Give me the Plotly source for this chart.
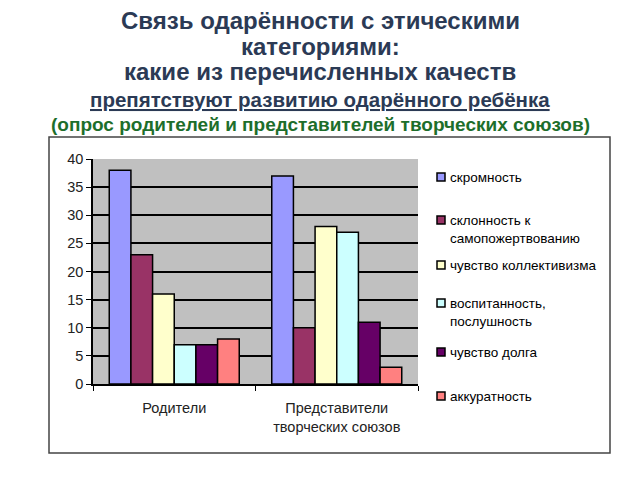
import plotly.graph_objects as go

categories = ["Родители", "Представители<br>творческих союзов"]
series_names = ["скромность", "склонность к<br>самопожертвованию", "чувство коллективизма",
                "воспитанность,<br>послушность", "чувство долга", "аккуратность"]
series_values = [
    [38, 37],
    [23, 10],
    [16, 28],
    [7, 27],
    [7, 11],
    [8, 3],
]
colors = ["#9999FF", "#993366", "#FFFFCC", "#CCFFFF", "#660066", "#FF8080"]
y_ticks = [0, 5, 10, 15, 20, 25, 30, 35, 40]

# plot area in pixels
L, R, T, B = 93, 418, 159, 384
W, H = R - L, B - T

def px(x):
    return (x - L) / W

def py(y):
    return (B - y) / H

fig = go.Figure()
for name, vals, c in zip(series_names, series_values, colors):
    fig.add_trace(go.Bar(x=categories, y=vals, name=name, marker_color=c,
                         marker_line_color="black", marker_line_width=1.5,
                         showlegend=False))

shapes = []
annotations = []

# outer frame
shapes.append(dict(type="rect", xref="paper", yref="paper",
                   x0=px(49), x1=px(610), y0=py(453), y1=py(137),
                   line=dict(color="#444444", width=1.5), layer="below"))

# custom legend
legend_y = [177, 220, 265, 303, 352, 396]
for name, c, ly in zip(series_names, colors, legend_y):
    shapes.append(dict(type="rect", xref="paper", yref="paper",
                       x0=px(437), x1=px(445), y0=py(ly + 4), y1=py(ly - 4),
                       fillcolor=c, line=dict(color="black", width=1.5)))
    annotations.append(dict(text=name, xref="paper", yref="paper",
                            x=px(448), y=py(ly - 9), xanchor="left", yanchor="top",
                            showarrow=False, align="left",
                            font=dict(family="Liberation Sans, Arial", size=13.5, color="black")))

# title lines
title_lines = [
    ("<b>Связь одарённости с этическими</b>", 20, 24, "#2b3a55"),
    ("<b>категориями:</b>", 46, 24, "#2b3a55"),
    ("<b>какие из перечисленных качеств</b>", 72, 24, "#2b3a55"),
    ("<b><u>препятствуют развитию одарённого ребёнка</u></b>", 99, 20.5, "#2b3a55"),
    ("<b>(опрос родителей и представителей творческих союзов)</b>", 124, 19, "#1d6e2b"),
]
for txt, ty, fs, col in title_lines:
    annotations.append(dict(text=txt, xref="paper", yref="paper",
                            x=px(320), y=py(ty), xanchor="center", yanchor="middle",
                            showarrow=False,
                            font=dict(family="Liberation Sans, Arial", size=fs, color=col)))

fig.update_layout(
    width=640, height=480,
    margin=dict(l=L, r=640 - R, t=T, b=480 - B),
    paper_bgcolor="white",
    plot_bgcolor="#C0C0C0",
    barmode="group",
    bargap=0.2,
    bargroupgap=0,
    shapes=shapes,
    annotations=annotations,
    font=dict(family="Liberation Sans, Arial", size=14, color="#222222"),
)
fig.update_yaxes(range=[0, 40], tickvals=y_ticks, showgrid=True, gridcolor="black",
                 gridwidth=1.5, showline=True, linecolor="black", linewidth=1.5,
                 ticks="outside", ticklen=5, tickcolor="black", zeroline=False,
                 tickfont=dict(size=14.5))
fig.update_xaxes(showline=True, linecolor="black", linewidth=1.5, ticks="outside",
                 tickson="boundaries", ticklen=5, tickcolor="black",
                 ticklabelstandoff=10, tickfont=dict(size=14.5))

fig.write_html("out.html")
